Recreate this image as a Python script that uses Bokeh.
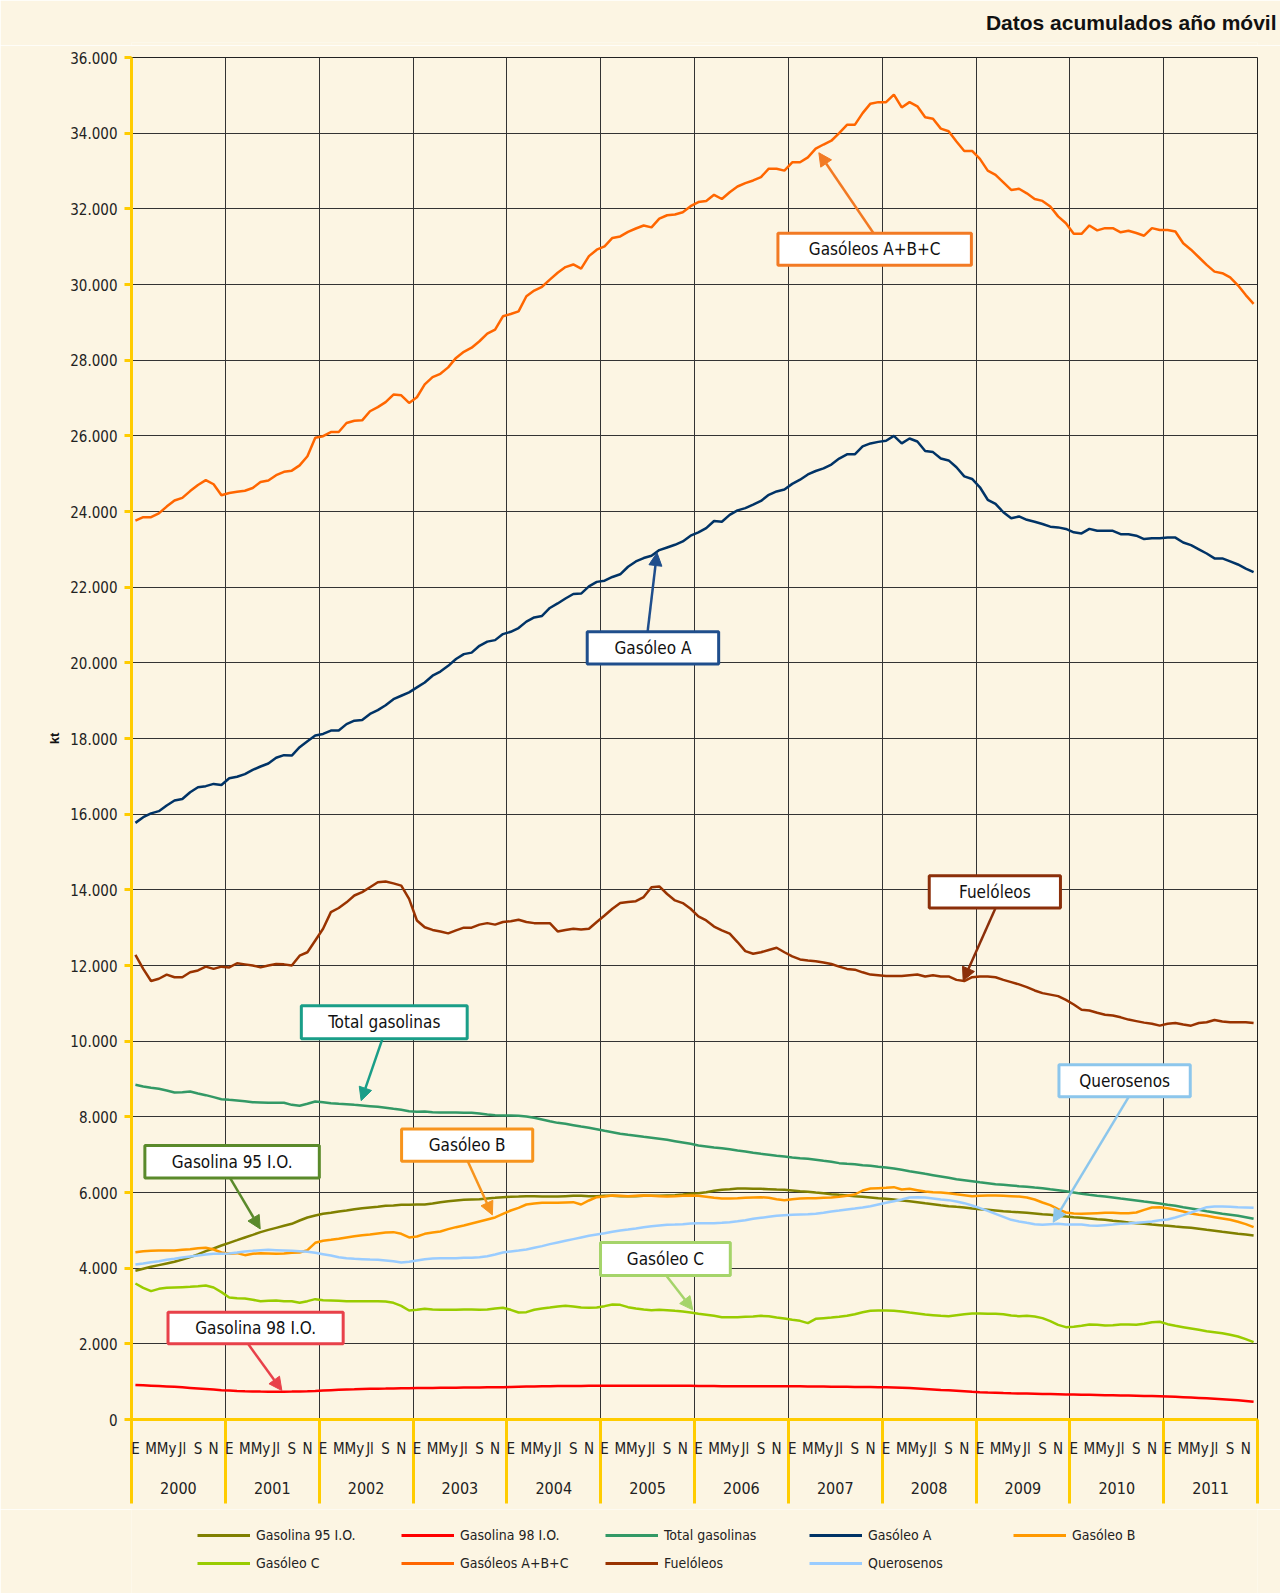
from bokeh.plotting import figure
from bokeh.layouts import column
from bokeh.models import (Range1d, FixedTicker, LinearAxis, Legend, LegendItem,
                          BoxAnnotation, Label, Arrow, NormalHead)
from bokeh.embed import file_html
from bokeh.resources import INLINE

# ---------------- data (kt, monthly, Jan 2000 .. Dec 2011) ----------------
years = [str(y) for y in range(2000, 2012)]
month_short = ["E", "", "M", "", "My", "", "Jl", "", "S", "", "N", ""]
y_ticks = list(range(0, 36001, 2000))

gasolina_95 = [
    3930, 3983, 4036, 4080, 4124, 4168, 4229, 4291, 4362, 4450, 4520, 4599,
    4670, 4740, 4811, 4881, 4952, 5013, 5066, 5119, 5172, 5260, 5340, 5392,
    5436, 5463, 5498, 5524, 5559, 5586, 5604, 5621, 5648, 5656, 5674, 5674,
    5683, 5683, 5709, 5745, 5771, 5789, 5806, 5815, 5824, 5842, 5859, 5877,
    5886, 5894, 5903, 5903, 5894, 5894, 5894, 5903, 5912, 5912, 5903, 5903,
    5912, 5912, 5903, 5903, 5903, 5912, 5912, 5912, 5921, 5930, 5947, 5965,
    5983, 6009, 6044, 6071, 6088, 6106, 6106, 6097, 6097, 6088, 6079, 6071,
    6053, 6035, 6018, 6000, 5983, 5956, 5938, 5921, 5903, 5886, 5868, 5850,
    5833, 5815, 5789, 5771, 5745, 5718, 5692, 5665, 5639, 5621, 5604, 5577,
    5560, 5542, 5524, 5506, 5489, 5480, 5463, 5445, 5427, 5410, 5383, 5366,
    5348, 5331, 5313, 5295, 5278, 5251, 5234, 5207, 5190, 5172, 5154, 5137,
    5119, 5101, 5084, 5066, 5040, 5013, 4987, 4960, 4934, 4908, 4890, 4864]

gasolina_98 = [
    915, 905, 895, 885, 875, 865, 850, 835, 820, 805, 790, 775,
    765, 755, 748, 742, 738, 735, 735, 735, 738, 742, 748, 755,
    765, 775, 785, 792, 798, 805, 810, 815, 818, 822, 825, 828,
    830, 832, 834, 836, 838, 840, 843, 846, 848, 850, 852, 855,
    860, 865, 870, 875, 878, 880, 883, 885, 887, 888, 889, 890,
    892, 893, 894, 895, 895, 895, 894, 893, 892, 891, 890, 890,
    888, 886, 884, 882, 880, 880, 880, 880, 880, 880, 880, 880,
    878, 876, 874, 872, 870, 868, 866, 864, 862, 860, 858, 855,
    850, 845, 838, 830, 820, 808, 795, 782, 770, 758, 745, 732,
    720, 712, 705, 698, 692, 688, 684, 680, 676, 672, 668, 664,
    660, 656, 652, 648, 644, 640, 636, 632, 628, 624, 620, 615,
    610, 600, 590, 580, 570, 560, 548, 536, 524, 510, 492, 470]

total_gasolinas = [
    8846, 8802, 8767, 8740, 8696, 8643, 8652, 8670, 8617, 8573, 8520, 8467,
    8449, 8432, 8414, 8388, 8379, 8370, 8370, 8370, 8317, 8291, 8344, 8405,
    8388, 8361, 8344, 8335, 8317, 8300, 8282, 8264, 8238, 8211, 8185, 8150,
    8132, 8141, 8123, 8115, 8115, 8115, 8106, 8106, 8088, 8062, 8044, 8035,
    8035, 8026, 8009, 7974, 7930, 7885, 7841, 7815, 7780, 7744, 7709, 7674,
    7630, 7595, 7551, 7524, 7498, 7471, 7445, 7419, 7392, 7357, 7322, 7286,
    7242, 7216, 7189, 7172, 7145, 7110, 7084, 7049, 7022, 6996, 6969, 6952,
    6925, 6907, 6890, 6864, 6837, 6811, 6776, 6758, 6749, 6723, 6705, 6679,
    6661, 6635, 6600, 6564, 6529, 6493, 6458, 6423, 6388, 6352, 6326, 6300,
    6273, 6247, 6220, 6203, 6185, 6167, 6150, 6132, 6115, 6088, 6062, 6035,
    6000, 5965, 5938, 5912, 5894, 5868, 5841, 5815, 5789, 5762, 5736, 5709,
    5674, 5648, 5612, 5577, 5542, 5506, 5471, 5436, 5410, 5383, 5348, 5304]

gasoleo_a = [
    15770, 15920, 16020, 16080, 16230, 16360, 16400, 16580, 16710, 16740, 16800, 16770,
    16950, 16990, 17060, 17170, 17260, 17340, 17490, 17560, 17550, 17770, 17930, 18080,
    18120, 18210, 18210, 18380, 18470, 18490, 18650, 18750, 18880, 19040, 19130, 19220,
    19350, 19480, 19660, 19770, 19920, 20100, 20230, 20270, 20450, 20560, 20600, 20760,
    20820, 20920, 21090, 21200, 21240, 21450, 21570, 21700, 21820, 21830, 22020, 22140,
    22170, 22270, 22340, 22540, 22680, 22770, 22830, 22980, 23050, 23120, 23210, 23360,
    23450, 23560, 23750, 23730, 23910, 24030, 24090, 24180, 24280, 24440, 24530, 24580,
    24730, 24840, 24980, 25070, 25140, 25240, 25400, 25510, 25510, 25720, 25800, 25840,
    25870, 26000, 25800, 25930, 25850, 25600, 25570, 25400, 25350, 25170, 24930, 24860,
    24640, 24310, 24200, 23980, 23820, 23870, 23780, 23730, 23670, 23600, 23580, 23540,
    23450, 23420, 23540, 23490, 23490, 23490, 23400, 23400, 23360, 23270, 23290, 23290,
    23310, 23310, 23180, 23110, 23000, 22890, 22760, 22760, 22680, 22600, 22490, 22400]

gasoleo_b = [
    4423, 4449, 4458, 4467, 4467, 4467, 4485, 4502, 4529, 4538, 4494, 4414,
    4379, 4397, 4344, 4379, 4397, 4388, 4379, 4388, 4405, 4414, 4476, 4670,
    4723, 4749, 4776, 4811, 4846, 4873, 4890, 4917, 4943, 4952, 4908, 4811,
    4837, 4908, 4943, 4970, 5031, 5084, 5128, 5181, 5234, 5287, 5340, 5437,
    5524, 5595, 5683, 5709, 5727, 5727, 5727, 5736, 5745, 5683, 5789, 5877,
    5894, 5921, 5912, 5903, 5912, 5921, 5912, 5903, 5894, 5903, 5912, 5921,
    5912, 5886, 5859, 5842, 5842, 5850, 5859, 5868, 5877, 5859, 5824, 5798,
    5824, 5842, 5850, 5850, 5859, 5868, 5886, 5912, 5947, 6053, 6106, 6115,
    6123, 6141, 6079, 6097, 6062, 6026, 6009, 6000, 5983, 5956, 5930, 5903,
    5912, 5921, 5921, 5912, 5903, 5894, 5868, 5815, 5736, 5665, 5560, 5471,
    5445, 5436, 5445, 5454, 5463, 5463, 5454, 5454, 5471, 5542, 5604, 5612,
    5586, 5542, 5498, 5445, 5410, 5383, 5348, 5313, 5278, 5225, 5163, 5084]

gasoleo_c = [
    3595, 3480, 3392, 3454, 3480, 3489, 3498, 3507, 3524, 3542, 3489, 3366,
    3225, 3207, 3198, 3163, 3128, 3137, 3146, 3128, 3128, 3084, 3128, 3181,
    3154, 3146, 3137, 3128, 3128, 3128, 3128, 3128, 3119, 3084, 3005, 2881,
    2899, 2925, 2908, 2899, 2899, 2899, 2908, 2908, 2899, 2908, 2934, 2952,
    2899, 2828, 2837, 2899, 2934, 2960, 2987, 3005, 2987, 2960, 2952, 2960,
    2996, 3040, 3031, 2969, 2934, 2908, 2890, 2899, 2890, 2872, 2855, 2828,
    2793, 2767, 2740, 2705, 2705, 2705, 2714, 2723, 2740, 2731, 2696, 2670,
    2635, 2608, 2546, 2661, 2679, 2696, 2714, 2740, 2784, 2837, 2872, 2881,
    2881, 2872, 2855, 2828, 2802, 2776, 2758, 2740, 2731, 2758, 2784, 2802,
    2802, 2793, 2793, 2784, 2749, 2731, 2740, 2723, 2679, 2599, 2502, 2441,
    2450, 2476, 2511, 2502, 2485, 2494, 2511, 2511, 2502, 2529, 2573, 2582,
    2520, 2476, 2441, 2406, 2371, 2335, 2309, 2282, 2238, 2194, 2124, 2044]

gasoleos_abc = [
    23760, 23850, 23850, 23950, 24130, 24290, 24360, 24540, 24700, 24830, 24720, 24430,
    24490, 24520, 24550, 24620, 24780, 24820, 24960, 25050, 25080, 25220, 25460, 25950,
    25990, 26100, 26100, 26340, 26400, 26410, 26650, 26760, 26890, 27090, 27070, 26870,
    27020, 27360, 27550, 27640, 27810, 28060, 28220, 28330, 28500, 28700, 28810, 29160,
    29220, 29290, 29690, 29840, 29940, 30130, 30310, 30460, 30530, 30420, 30750, 30920,
    31010, 31230, 31270, 31390, 31480, 31560, 31510, 31740, 31830, 31850, 31910, 32070,
    32180, 32210, 32370, 32260, 32440, 32590, 32680, 32750, 32840, 33060, 33060, 33010,
    33230, 33230, 33360, 33590, 33700, 33800, 34000, 34220, 34220, 34530, 34780, 34820,
    34820, 35020, 34680, 34820, 34710, 34420, 34380, 34120, 34050, 33780, 33530, 33530,
    33320, 33010, 32900, 32700, 32500, 32530, 32410, 32260, 32210, 32060, 31800, 31620,
    31340, 31340, 31560, 31430, 31490, 31490, 31380, 31420, 31360, 31290, 31490, 31440,
    31440, 31400, 31090, 30920, 30720, 30520, 30340, 30300, 30190, 29980, 29720, 29490]

fueloleos = [
    12280, 11910, 11590, 11650, 11760, 11690, 11690, 11820, 11870, 11970, 11910, 11970,
    11950, 12060, 12030, 12000, 11950, 12000, 12040, 12030, 12000, 12260, 12350, 12660,
    12970, 13410, 13520, 13670, 13850, 13940, 14070, 14200, 14220, 14170, 14110, 13760,
    13190, 13010, 12940, 12900, 12850, 12930, 13000, 13000, 13080, 13120, 13080, 13150,
    13170, 13210, 13150, 13120, 13120, 13120, 12900, 12940, 12970, 12950, 12970, 13150,
    13320, 13500, 13650, 13680, 13700, 13810, 14070, 14090, 13890, 13720, 13650, 13500,
    13300, 13190, 13030, 12930, 12840, 12620, 12380, 12310, 12350, 12410, 12470, 12350,
    12240, 12160, 12130, 12110, 12080, 12040, 11970, 11910, 11890, 11820, 11760, 11740,
    11720, 11720, 11720, 11740, 11760, 11710, 11740, 11710, 11710, 11620, 11590, 11690,
    11710, 11710, 11690, 11620, 11560, 11500, 11430, 11340, 11270, 11230, 11190, 11090,
    10970, 10830, 10810, 10750, 10700, 10680, 10630, 10570, 10530, 10490, 10460, 10410,
    10460, 10480, 10440, 10410, 10480, 10500, 10560, 10520, 10500, 10500, 10500, 10480]

querosenos = [
    4097, 4124, 4159, 4185, 4221, 4247, 4282, 4309, 4335, 4362, 4379, 4379,
    4388, 4414, 4441, 4458, 4476, 4485, 4476, 4467, 4458, 4449, 4432, 4405,
    4370, 4335, 4291, 4265, 4247, 4238, 4229, 4221, 4203, 4185, 4150, 4168,
    4203, 4238, 4256, 4265, 4265, 4265, 4273, 4273, 4291, 4317, 4361, 4414,
    4441, 4467, 4494, 4538, 4582, 4635, 4679, 4723, 4767, 4811, 4855, 4890,
    4925, 4961, 4996, 5022, 5049, 5084, 5110, 5128, 5146, 5154, 5163, 5181,
    5190, 5190, 5190, 5198, 5216, 5242, 5269, 5304, 5331, 5357, 5383, 5401,
    5410, 5419, 5427, 5436, 5463, 5498, 5524, 5551, 5577, 5604, 5639, 5683,
    5727, 5771, 5815, 5868, 5877, 5868, 5842, 5815, 5798, 5762, 5718, 5656,
    5586, 5515, 5436, 5357, 5278, 5234, 5198, 5163, 5146, 5163, 5172, 5154,
    5154, 5154, 5128, 5119, 5137, 5154, 5172, 5181, 5198, 5216, 5234, 5269,
    5287, 5340, 5401, 5471, 5542, 5612, 5630, 5630, 5621, 5612, 5604, 5595]

series = [
    ("Gasolina 95 I.O.", gasolina_95, "#808000"),
    ("Gasolina 98 I.O.", gasolina_98, "#FF0000"),
    ("Total gasolinas", total_gasolinas, "#339966"),
    ("Gasóleo A", gasoleo_a, "#003366"),
    ("Gasóleo B", gasoleo_b, "#FF9900"),
    ("Gasóleo C", gasoleo_c, "#99CC00"),
    ("Gasóleos A+B+C", gasoleos_abc, "#FF6600"),
    ("Fuelóleos", fueloleos, "#993300"),
    ("Querosenos", querosenos, "#99CCFF"),
]

# ---------------- styling ----------------
FONT = "'DejaVu Sans Condensed', 'Roboto', 'Liberation Sans', sans-serif"
BOLD = "'Liberation Sans', 'DejaVu Sans', sans-serif"
BG = "#FCF5E3"
YEL = "#FFCC00"
TXT = "#222222"
W = 1280
TOP_H = 45          # strip holding the title
MAIN_H = 1464       # plot (12 px top border + frame 1362 px + axes 90 px)
LEG_H = 1593 - TOP_H - MAIN_H


def blank_strip(h):
    f = figure(width=W, height=h, output_backend="svg", toolbar_location=None,
               x_range=Range1d(0, 1), y_range=Range1d(0, 1),
               min_border_left=0, min_border_right=0, min_border_top=0, min_border_bottom=0)
    f.axis.visible = False
    f.grid.visible = False
    f.outline_line_color = None
    f.background_fill_color = BG
    f.border_fill_color = BG
    return f


# ---------------- title strip ----------------
t = blank_strip(TOP_H)
t.title.text = "Datos acumulados año móvil"
t.title.align = "right"
t.title.text_font = BOLD
t.title.text_font_style = "bold"
t.title.text_font_size = "21px"
t.title.text_color = "#111111"
t.title.offset = -19
t.title.standoff = 17

# ---------------- main plot ----------------
n_months = 12 * len(years)
months_x = [i + 0.5 for i in range(n_months)]

p = figure(width=W, height=MAIN_H, output_backend="svg", toolbar_location=None,
           x_range=Range1d(0, n_months), y_range=Range1d(0, 36000),
           min_border_left=131, min_border_right=23, min_border_top=12, min_border_bottom=90)
p.background_fill_color = BG
p.border_fill_color = BG
p.outline_line_color = "#222222"
p.outline_line_width = 1

# y axis
ya = p.yaxis[0]
ya.ticker = FixedTicker(ticks=y_ticks)
ya.major_label_overrides = {v: (f"{v:,}".replace(",", ".")) for v in y_ticks}
ya.axis_line_color = YEL
ya.axis_line_width = 3
ya.major_tick_line_color = YEL
ya.major_tick_line_width = 3
ya.major_tick_out = 7
ya.major_tick_in = 0
ya.minor_tick_line_color = None
ya.major_label_text_font = FONT
ya.major_label_text_font_size = "15px"
ya.major_label_text_color = TXT
ya.major_label_standoff = 7
ya.axis_label = "kt"
ya.axis_label_text_font = BOLD
ya.axis_label_text_font_style = "bold"
ya.axis_label_text_font_size = "13px"
ya.axis_label_text_color = "#111111"
ya.axis_label_standoff = 5

# x axis: month letters, yellow year separators as minor ticks
month_pos = [12 * y + m + 0.5 for y in range(len(years)) for m in range(12) if month_short[m]]
month_txt = {12 * y + m + 0.5: month_short[m] for y in range(len(years)) for m in range(12) if month_short[m]}
year_bounds = [12 * y for y in range(len(years) + 1)]
xa = p.xaxis[0]
xa.ticker = FixedTicker(ticks=month_pos, minor_ticks=year_bounds)
xa.major_label_overrides = month_txt
xa.axis_line_color = YEL
xa.axis_line_width = 3
xa.major_tick_line_color = None
xa.major_tick_out = 0
xa.major_tick_in = 0
xa.minor_tick_line_color = YEL
xa.minor_tick_line_width = 3
xa.minor_tick_out = 84
xa.minor_tick_in = 0
xa.major_label_text_font = FONT
xa.major_label_text_font_size = "15px"
xa.major_label_text_color = TXT
xa.major_label_standoff = -64

year_pos = [12 * y + 6 for y in range(len(years))]
xa2 = LinearAxis(ticker=FixedTicker(ticks=year_pos),
                 major_label_overrides={12 * y + 6: years[y] for y in range(len(years))})
xa2.axis_line_color = None
xa2.major_tick_line_color = None
xa2.minor_tick_line_color = None
xa2.major_tick_out = 0
xa2.major_tick_in = 0
xa2.major_label_text_font = FONT
xa2.major_label_text_font_size = "16px"
xa2.major_label_text_color = TXT
xa2.major_label_standoff = 21
p.add_layout(xa2, "below")

# grids
p.ygrid.ticker = FixedTicker(ticks=y_ticks)
p.ygrid.grid_line_color = "#333333"
p.ygrid.grid_line_width = 1
p.xgrid.ticker = FixedTicker(ticks=year_bounds)
p.xgrid.grid_line_color = "#333333"
p.xgrid.grid_line_width = 1

# lines
for name, vals, col in series:
    p.line(months_x, vals, line_color=col, line_width=2.5)

# annotation boxes: (text, left, right, bottom, top, arrow start, arrow end, color)
ann = [
    ("Gasóleos A+B+C", 82.67, 107.41, 30507, 31353, (94.9, 31353), (87.9, 33482), "#F27A24"),
    ("Gasóleo A", 58.28, 75.09, 19966, 20819, (66.0, 20819), (67.2, 22914), "#1F4E8C"),
    ("Fuelóleos", 102.02, 118.80, 13519, 14372, (110.5, 13519), (106.36, 11598), "#8B2F0A"),
    ("Total gasolinas", 21.72, 42.93, 10066, 10938, (32.1, 10066), (29.37, 8428), "#1A9E88"),
    ("Querosenos", 118.61, 135.40, 8534, 9379, (127.55, 8534), (117.87, 5213), "#8CC6EC"),
    ("Gasóleo B", 34.54, 51.31, 6824, 7680, (43.0, 6824), (46.15, 5408), "#F7941D"),
    ("Gasolina 95 I.O.", 1.71, 24.02, 6386, 7239, (12.6, 6386), (16.46, 5038), "#5A8A2B"),
    ("Gasolina 98 I.O.", 4.67, 27.07, 2000, 2835, (14.9, 2000), (19.23, 766), "#E8414A"),
    ("Gasóleo C", 59.98, 76.58, 3805, 4676, (68.38, 3805), (71.78, 2898), "#A5D46A"),
]
for text, l, r, b, tp, s, e, col in ann:
    p.add_layout(Arrow(end=NormalHead(size=13, fill_color=col, line_color=col, line_width=1),
                       x_start=s[0], y_start=s[1], x_end=e[0], y_end=e[1],
                       line_color=col, line_width=2.5))
    p.add_layout(BoxAnnotation(left=l, right=r, bottom=b, top=tp, fill_color="white",
                               fill_alpha=1, line_color=col, line_width=3, line_alpha=1))
    p.add_layout(Label(x=(l + r) / 2, y=(b + tp) / 2, text=text, text_align="center",
                       text_baseline="middle", text_font=FONT, text_font_size="17px",
                       text_color="#111111"))

# ---------------- legend strip ----------------
q = blank_strip(LEG_H)
items = []
for name, vals, col in series:
    # legend swatch only: the line itself lies outside this strip's ranges
    r = q.line([-3, -2], [-3, -3], line_color=col, line_width=3)
    items.append(LegendItem(label=name, renderers=[r]))
leg = Legend(items=items, orientation="horizontal", ncols=5, location=(66, 18),
             glyph_width=53, glyph_height=24, label_height=24, label_width=141,
             label_standoff=6, spacing=4, padding=0, margin=0,
             border_line_color=None, background_fill_alpha=0,
             label_text_font=FONT, label_text_font_size="14px", label_text_color=TXT)
q.add_layout(leg, "center")

open("out.html", "w").write(file_html(column(t, p, q, spacing=0), INLINE))
